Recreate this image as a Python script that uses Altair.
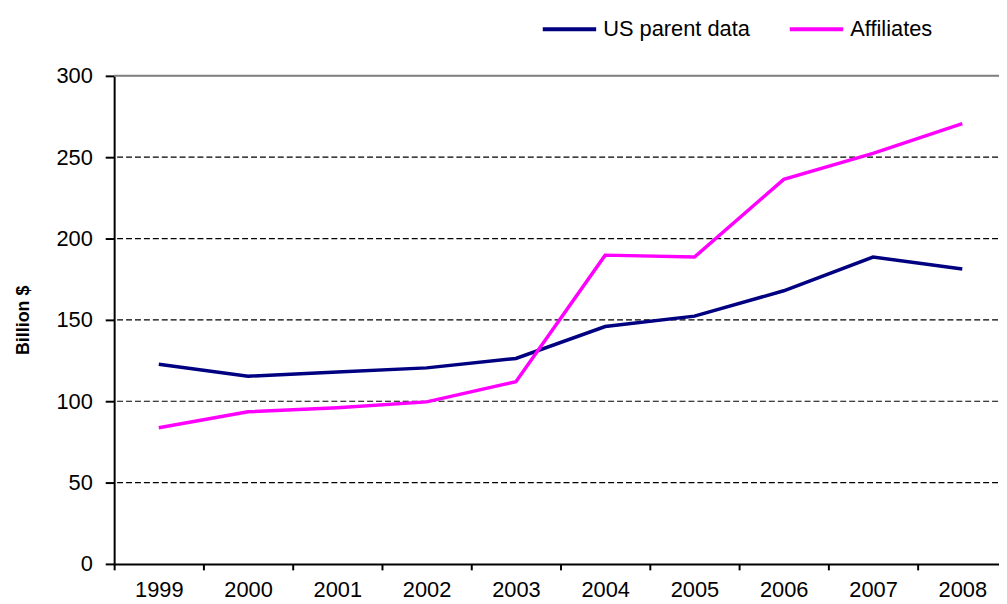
import altair as alt
import pandas as pd

years = ["1999", "2000", "2001", "2002", "2003", "2004", "2005", "2006", "2007", "2008"]
us_parent = [122.7, 115.4, 118.0, 120.5, 126.3, 145.9, 152.3, 167.9, 188.6, 181.3]
affiliates = [83.7, 93.5, 96.0, 99.6, 112.0, 189.8, 188.6, 236.4, 252.4, 270.6]
series_names = ["US parent data", "Affiliates"]
series_colors = ["#000080", "#FF00FF"]
y_ticks = [0, 50, 100, 150, 200, 250, 300]

rows = []
for name, vals in zip(series_names, [us_parent, affiliates]):
    for yr, v in zip(years, vals):
        rows.append({"Year": yr, "Value": v, "Series": name})
df = pd.DataFrame(rows)

FONT = "Liberation Sans"

x_enc = alt.X("Year:O", sort=years,
              scale=alt.Scale(type="band", paddingInner=0, paddingOuter=0),
              axis=alt.Axis(title=None, labelAngle=0, tickBand="extent",
                            domainColor="black", domainWidth=2,
                            tickColor="black", tickWidth=2, tickSize=6,
                            labelFontSize=22, labelColor="black", labelFont=FONT,
                            labelPadding=10, grid=False))

grid = alt.Chart(pd.DataFrame({"v": [50, 100, 150, 200, 250]})).mark_rule(
    color="black", strokeWidth=1.2, strokeDash=[6, 3]
).encode(y=alt.Y("v:Q", scale=alt.Scale(domain=[0, 300])))

top = alt.Chart(pd.DataFrame({"v": [300]})).mark_rule(
    color="#808080", strokeWidth=2
).encode(y=alt.Y("v:Q", scale=alt.Scale(domain=[0, 300])))

lines = alt.Chart(df).mark_line(strokeWidth=3.5).encode(
    x=x_enc,
    y=alt.Y("Value:Q", scale=alt.Scale(domain=[0, 300], nice=False),
            axis=alt.Axis(title="Billion $", values=y_ticks, grid=False,
                          domainColor="black", domainWidth=2,
                          tickColor="black", tickWidth=2, tickSize=9,
                          labelFontSize=22, labelColor="black", labelFont=FONT,
                          labelPadding=13,
                          titleFont=FONT, titleFontSize=18, titleFontWeight="bold",
                          titleColor="black", titlePadding=24)),
    color=alt.Color("Series:N", sort=series_names,
                    scale=alt.Scale(domain=series_names, range=series_colors),
                    legend=alt.Legend(title=None, orient="none", direction="horizontal",
                                      legendX=430, legendY=-76,
                                      symbolType="stroke", symbolSize=2900,
                                      symbolStrokeWidth=4, columnPadding=32,
                                      labelFontSize=22, labelFont=FONT,
                                      labelColor="black", labelOffset=5)),
    detail="Series:N",
)

chart = alt.layer(grid, top, lines).properties(
    width=900, height=492,
    autosize=alt.AutoSizeParams(type="none"),
    padding={"left": 107, "top": 66, "right": -8, "bottom": 37},
).configure_view(stroke=None).configure(background="white")

chart.save("out.html", embed_options={"renderer": "svg", "actions": False})
